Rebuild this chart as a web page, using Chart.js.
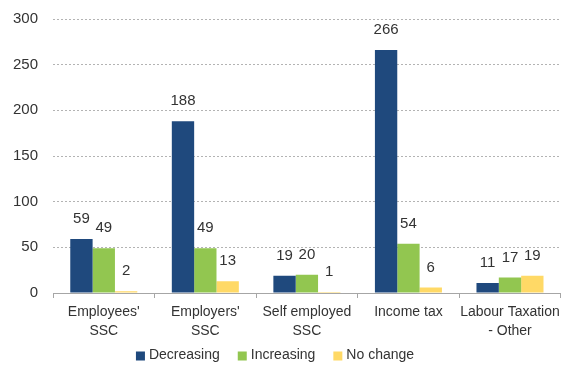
<!DOCTYPE html>
<html>
<head>
<meta charset="utf-8">
<script src="https://cdn.jsdelivr.net/npm/chart.js@4/dist/chart.umd.min.js"></script>
<style>
    html, body { margin: 0; padding: 0; background: #fff; }
    #wrap { width: 565px; height: 365px; }
</style>
</head>
<body>
<div id="wrap"><canvas id="measuresChart" width="565" height="365"></canvas></div>
<script>
const categories = [
    ["Employees'", "SSC"],
    ["Employers'", "SSC"],
    ["Self employed", "SSC"],
    "Income tax",
    ["Labour Taxation", "- Other"]
];
const decreasing = [59, 188, 19, 266, 11];
const increasing = [49, 49, 20, 54, 17];
const noChange = [2, 13, 1, 6, 19];
const yTicks = [0, 50, 100, 150, 200, 250, 300];

const fontFamily = "'Liberation Sans', Arial, sans-serif";
const textColor = '#333333';

// Value written above each bar
const barValueLabels = {
    id: 'barValueLabels',
    afterDatasetsDraw(chart) {
        const ctx = chart.ctx;
        ctx.save();
        ctx.font = '15px ' + fontFamily;
        ctx.fillStyle = textColor;
        ctx.textAlign = 'center';
        ctx.textBaseline = 'middle';
        chart.data.datasets.forEach((ds, i) => {
            chart.getDatasetMeta(i).data.forEach((bar, j) => {
                ctx.fillText(String(ds.data[j]), bar.x, bar.y - 20);
            });
        });
        ctx.restore();
    }
};

// Compact legend row under the axis labels
const bottomLegend = {
    id: 'bottomLegend',
    afterDraw(chart) {
        const ctx = chart.ctx;
        const box = 9, gap = 4, spacing = 18, centerX = 275, y = 355;
        ctx.save();
        ctx.font = '14px ' + fontFamily;
        ctx.textBaseline = 'middle';
        ctx.textAlign = 'left';
        const items = chart.data.datasets.map(ds => ({
            text: ds.label,
            color: ds.backgroundColor,
            w: ctx.measureText(ds.label).width
        }));
        const total = items.reduce((s, it) => s + box + gap + it.w, 0) + spacing * (items.length - 1);
        let x = centerX - total / 2;
        items.forEach(it => {
            ctx.fillStyle = it.color;
            ctx.fillRect(x, y - 3.5, box, box);
            ctx.fillStyle = textColor;
            ctx.fillText(it.text, x + box + gap, y);
            x += box + gap + it.w + spacing;
        });
        ctx.restore();
    }
};

const ctx = document.getElementById('measuresChart').getContext('2d');
const measuresChart = new Chart(ctx, {
    type: 'bar',
    data: {
        labels: categories,
        datasets: [{
            label: 'Decreasing',
            backgroundColor: '#1f497d',
            data: decreasing
        }, {
            label: 'Increasing',
            backgroundColor: '#92c650',
            data: increasing
        }, {
            label: 'No change',
            backgroundColor: '#ffd966',
            data: noChange
        }]
    },
    options: {
        responsive: false,
        animation: false,
        devicePixelRatio: 1,
        categoryPercentage: 0.66,
        barPercentage: 1.0,
        layout: {
            padding: { top: 19, right: 2, left: 0, bottom: 22 }
        },
        scales: {
            x: {
                offset: true,
                grid: {
                    offset: true,
                    drawOnChartArea: false,
                    drawTicks: true,
                    tickLength: 5,
                    color: '#a6a6a6'
                },
                border: { display: true, color: '#a6a6a6', width: 1 },
                ticks: {
                    color: textColor,
                    font: { family: fontFamily, size: 14, lineHeight: 1.33 },
                    padding: 5,
                    maxRotation: 0,
                    autoSkip: false
                },
                afterFit: function (scale) {
                    scale.height = 50;
                }
            },
            y: {
                min: 0,
                max: 300,
                afterBuildTicks: function (scale) {
                    scale.ticks = yTicks.map(v => ({ value: v }));
                },
                grid: {
                    drawTicks: false,
                    color: '#b3b3b3',
                    lineWidth: 1
                },
                border: { display: false, dash: [2, 2] },
                ticks: {
                    color: textColor,
                    font: { family: fontFamily, size: 15 },
                    padding: 15
                },
                afterFit: function (scale) {
                    scale.width = 53;
                    scale.paddingTop = 0;
                    scale.paddingBottom = 0;
                }
            }
        },
        plugins: {
            legend: { display: false },
            tooltip: { enabled: false }
        }
    },
    plugins: [barValueLabels, bottomLegend]
});
</script>
</body>
</html>
